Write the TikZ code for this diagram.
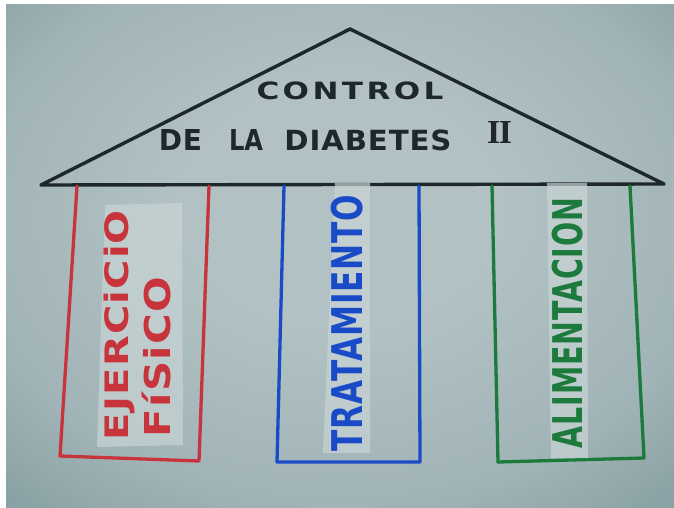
\documentclass[tikz,border=0pt]{standalone}
\usepackage{fontspec}
\usepackage{graphicx}
\setmainfont{DejaVu Sans}
% marker lettering: heavy sans with a little tracking where the hand spread the letters
\newfontfamily\inkfont{DejaVu Sans Bold}
\newfontfamily\inklabel[LetterSpace=3]{DejaVu Sans Bold}
\newfontfamily\inkwide[LetterSpace=11]{DejaVu Sans Bold}
\newfontfamily\inkmid[LetterSpace=3]{DejaVu Sans Bold}
\newfontfamily\inkde[LetterSpace=2]{DejaVu Sans Bold}
\newfontfamily\numfont{Liberation Serif Bold}

\definecolor{paperc}{HTML}{B2C2C4}
\definecolor{paperm}{HTML}{A0B3B6}
\definecolor{papere}{HTML}{809A9D}
\definecolor{stripc}{HTML}{C9D4D5}
\definecolor{inkblack}{HTML}{1E272B}
\definecolor{inkred}{HTML}{C8343C}
\definecolor{inkblue}{HTML}{1A4BC6}
\definecolor{inkgreen}{HTML}{1B7A3C}

% soft light in the middle of the sheet, darker towards the edges
\pgfdeclareradialshading{paperglow}{\pgfpoint{0bp}{6bp}}{%
  color(0bp)=(paperc); color(12bp)=(paperc); color(28bp)=(paperm);
  color(40bp)=(papere); color(60bp)=(papere)}

% a word squeezed into a given length and total height
\newcommand\inkword[3]{\resizebox*{#1}{#2}{#3}}

\begin{document}
\begin{tikzpicture}[x=1pt,y=-1pt,line join=round,line cap=round,
  roof/.style={draw=inkblack,line width=3.4pt},
  pillar/.style={line width=3.3pt},
  strip/.style={fill=stripc,fill opacity=.7},
  ink/.style={inner sep=0pt,outer sep=0pt},
  title/.style={ink,text=inkblack},
  upward/.style={ink,rotate=90}]

\useasboundingbox (0,0) rectangle (674,508);
\fill[white] (0,0) rectangle (674,508);
\shade[shading=paperglow] (6,5) rectangle (674,508);

% roof
\draw[roof] (41,185) -- (350,29) -- (664,184) -- cycle;

% pillars, open at the top where they meet the roof
\draw[pillar,draw=inkred]   (77,186)  -- (60,456)  -- (199,461) -- (209,186);
\draw[pillar,draw=inkblue]  (284,186) -- (277,462) -- (420,462) -- (419,186);
\draw[pillar,draw=inkgreen] (492,186) -- (498,462) -- (644,458) -- (630,186);

% paper strips carrying the pillar labels
\fill[strip] (105,205) -- (182,203) -- (183,445) -- (97,447) -- cycle;
\fill[strip] (335,183) -- (370,183) -- (370,453) -- (323,453) -- cycle;
\fill[strip] (547,183) -- (587,183) -- (588,458) -- (551,458) -- cycle;

% roof text
\node[title] (ctl)   at (350,91)  {\inkword{187pt}{18pt}{\inkwide CONTROL}};
\node[title] (de)    at (180.5,140) {\inkword{43pt}{21pt}{\inkde DE}};
\node[title] (la)    at (246,140) {\inkword{34pt}{21pt}{\inkfont LA}};
\node[title] (diab)  at (368,140) {\inkword{167pt}{21pt}{\inkmid DIABETES}};
\node[title] (roman) at (499.5,132) {\inkword{25pt}{22pt}{\numfont I\kern-.04em I}};

% pillar labels, read upwards
\node[upward,text=inkred]   (ejer)   at (119,325) {\inkword{230pt}{31pt}{\inklabel EJERCiCiO}};
\node[upward,text=inkred]   (fisico) at (156,357) {\inkword{160pt}{29pt}{\inklabel FíSiCO}};
\node[upward,text=inkblue]  (trat)   at (347,323) {\inkword{257pt}{32pt}{\inklabel TRATAMIENTO}};
\node[upward,text=inkgreen] (alim)   at (568,323) {\inkword{250pt}{31pt}{\inklabel ALIMENTACION}};
\end{tikzpicture}
\end{document}
